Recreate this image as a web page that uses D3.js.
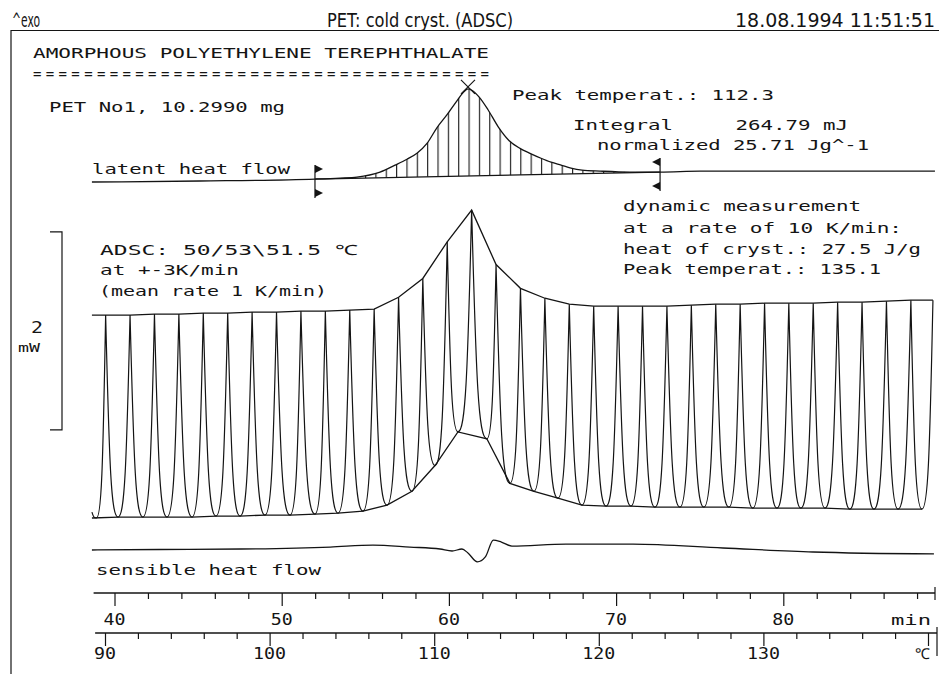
<!DOCTYPE html>
<html><head><meta charset="utf-8">
<script src="https://cdn.jsdelivr.net/npm/d3@7"></script>
<style>
html,body{margin:0;padding:0;background:#fff;}
svg{display:block;}
svg text{white-space:pre;}
</style></head><body>
<svg id="chart" width="939" height="674"></svg>
<script>
// ---------------- data ----------------
const timeMajor = [40, 50, 60, 70, 80];
const timeLabels = ["40", "50", "60", "70", "80"];
const timeMinor = [42,44,46,48,52,54,56,58,62,64,66,68,72,74,76,78,82,84,86,88];
const tempMajor = [90, 100, 110, 120, 130, 140];
const tempLabels = ["90", "100", "110", "120", "130", "℃"];
const tempMinor = [92,94,96,98,102,104,106,108,112,114,116,118,122,124,126,128,132,134,136,138];

// modulated (ADSC) heat flow: peak maxima (upper envelope) and minima (lower envelope), mW
const peakTimes = [39.47,40.93,42.39,43.85,45.31,46.77,48.23,49.69,51.15,52.61,54.07,55.53,56.99,58.44,59.90,61.36,62.82,64.28,65.74,67.20,68.66,70.12,71.58,73.04,74.50,75.96,77.42,78.88,80.33,81.79,83.25,84.71,86.17,87.63];
const peakValues = [2.07,2.07,2.08,2.08,2.09,2.09,2.10,2.10,2.11,2.11,2.12,2.13,2.25,2.44,2.81,3.13,2.58,2.34,2.24,2.18,2.16,2.16,2.16,2.16,2.17,2.18,2.18,2.19,2.19,2.19,2.20,2.20,2.21,2.22];
const troughTimes = [40.21,41.70,43.14,44.64,46.07,47.51,49.00,50.50,51.99,53.37,54.86,56.30,57.79,59.17,60.54,62.27,63.65,65.09,66.52,67.96,69.40,70.89,72.32,73.82,75.25,76.75,78.18,79.62,81.05,82.49,83.98,85.42,86.86,88.29];
const troughValues = [0.03,0.03,0.03,0.03,0.04,0.04,0.05,0.05,0.06,0.07,0.09,0.15,0.29,0.55,0.89,0.82,0.37,0.29,0.22,0.15,0.14,0.14,0.13,0.13,0.13,0.13,0.12,0.12,0.12,0.12,0.11,0.11,0.11,0.11];
const waveStart = [38.65, 0.08];
const firstTrough = [38.92, 0.02];
const waveEnd = [88.95, 2.22];

// latent heat flow (mW, relative)
const latentTimes = [38.65,45.11,51.99,53.49,54.50,55.88,56.78,57.49,58.09,58.69,59.29,59.89,60.48,60.84,61.14,61.44,61.80,62.34,62.94,63.59,64.25,64.85,65.51,66.11,66.71,67.30,67.96,69.04,70.83,72.63,75.02,81.00,89.07];
const latentValues = [0.00,0.01,0.03,0.04,0.05,0.10,0.17,0.23,0.29,0.39,0.55,0.68,0.82,0.90,0.94,0.92,0.86,0.73,0.56,0.42,0.34,0.29,0.24,0.20,0.17,0.14,0.12,0.11,0.10,0.10,0.11,0.11,0.11];
const integrationLimits = [51.99, 72.63];
const latentPeak = [61.14, 0.94];

// sensible heat flow (mW, relative)
const sensibleTimes = [38.65,42.7,47.57,52.9,55.46,57.67,59.47,60.19,60.78,61.14,61.70,62.18,62.66,63.14,63.77,67.00,71.01,76.39,81.78,89.01];
const sensibleValues = [0.00,0.005,0.01,0.03,0.05,0.03,0.01,-0.01,0.01,-0.03,-0.12,-0.07,0.10,0.08,0.04,0.06,0.06,0.02,-0.02,-0.04];

const scaleBar = [0.91, 2.91]; // 2 mW

// ---------------- drawing ----------------
const svg = d3.select("#chart");
const INK = "#141414";
const MONO = "'DejaVu Sans Mono','Liberation Mono',monospace";
const COND = "'DejaVu Sans Condensed','Liberation Sans Narrow','DejaVu Sans',sans-serif";

const x = d3.scaleLinear().domain([40, 80]).range([114.5, 783.3]);
const xT = d3.scaleLinear().domain([90, 140]).range([105, 928]);
const yMain = d3.scaleLinear().domain([0, 2]).range([520, 322]);
const yLat = d3.scaleLinear().domain([0, 1]).range([182, 83]);
const ySens = d3.scaleLinear().domain([0, 1]).range([550, 451]);

function txt(s, x0, y0, len, opt = {}) {
  const t = svg.append("text").attr("x", x0).attr("y", y0).text(s)
    .attr("xml:space", "preserve")
    .attr("font-family", opt.family || MONO)
    .attr("font-size", opt.size || 14)
    .attr("fill", INK);
  if (len) t.attr("textLength", len).attr("lengthAdjust", opt.adjust || "spacingAndGlyphs");
  if (opt.anchor) t.attr("text-anchor", opt.anchor);
  return t;
}
function seg(x1, y1, x2, y2, w = 1.2) {
  svg.append("line").attr("x1", x1).attr("y1", y1).attr("x2", x2).attr("y2", y2)
    .attr("stroke", INK).attr("stroke-width", w);
}

// frame + header
seg(11, 30.5, 939, 30.5, 1.2);
seg(11, 30, 11, 674, 1.2);
txt("^exo", 12, 27, 28, {family: COND, size: 19});
txt("PET: cold cryst. (ADSC)", 327, 27, 186, {family: COND, size: 19});
txt("18.08.1994 11:51:51", 735, 27, 200, {family: COND, size: 19});

// annotations (plotter-like wide mono lettering, pitch ~12.6 px)
txt("AMORPHOUS POLYETHYLENE TEREPHTHALATE", 33, 58, 456);
txt("====================================", 33, 79, 456, {adjust: "spacing"});
txt("PET No1, 10.2990 mg", 49, 112, 236);
txt("Peak temperat.: 112.3", 512, 100, 262);
txt("Integral     264.79 mJ", 573, 130, 275);
txt("normalized 25.71 Jg^-1", 597, 150, 272);
txt("latent heat flow", 92, 174, 198);
txt("dynamic measurement", 623, 211, 238);
txt("at a rate of 10 K/min:", 623, 233, 279);
txt("heat of cryst.: 27.5 J/g", 623, 253.5, 298);
txt("Peak temperat.: 135.1", 623, 273.5, 258);
txt("ADSC: 50/53\\51.5 ℃", 100, 255, 258);
txt("at +-3K/min", 100, 275, 139);
txt("(mean rate 1 K/min)", 99, 296, 228);
txt("sensible heat flow", 96, 575, 225);

// 2 mW scale bar
const sb0 = yMain(scaleBar[0]), sb1 = yMain(scaleBar[1]);
svg.append("path").attr("d", `M50,${sb1}H62V${sb0}H50`).attr("fill", "none")
  .attr("stroke", INK).attr("stroke-width", 1.2);
txt("2", 31, 333, 12, {size: 16});
txt("mW", 18, 352, 22, {size: 12});

// ---- latent heat flow ----
const latent = latentTimes.map((t, i) => ({t, v: latentValues[i]}));
function latAt(t) {
  for (let i = 1; i < latent.length; i++) {
    if (t <= latent[i].t) {
      const a = latent[i - 1], b = latent[i];
      return a.v + (b.v - a.v) * (t - a.t) / (b.t - a.t);
    }
  }
  return latent[latent.length - 1].v;
}
const [l1, l2] = integrationLimits;
const bv1 = latAt(l1), bv2 = latAt(l2);
const baseAt = t => bv1 + (bv2 - bv1) * (t - l1) / (l2 - l1);

const defs = svg.append("defs");
const pat = defs.append("pattern").attr("id", "hatch").attr("patternUnits", "userSpaceOnUse")
  .attr("x", 365).attr("y", 0).attr("width", 10.35).attr("height", 20);
pat.append("line").attr("x1", 0.6).attr("x2", 0.6).attr("y1", 0).attr("y2", 20)
  .attr("stroke", INK).attr("stroke-width", 1.1);

const inside = latent.filter(d => d.t >= l1 && d.t <= l2);
svg.append("path").datum(inside)
  .attr("d", d3.area().x(d => x(d.t)).y0(d => yLat(baseAt(d.t))).y1(d => yLat(d.v)).curve(d3.curveMonotoneX))
  .attr("fill", "url(#hatch)").attr("stroke", "none");
svg.append("path").datum(latent)
  .attr("d", d3.line().x(d => x(d.t)).y(d => yLat(d.v)).curve(d3.curveMonotoneX))
  .attr("fill", "none").attr("stroke", INK).attr("stroke-width", 1.3);
seg(x(l1), yLat(bv1), x(l2), yLat(bv2), 1.2);

// integration limit markers
function marker(t, v, dir) {
  const mx = x(t), my = yLat(v);
  seg(mx, my - 14, mx, my + 19, 1.2);
  [my - 10, my + 14].forEach(cy => {
    const tip = mx + dir * 8;
    svg.append("path").attr("d", `M${mx},${cy - 4}L${tip},${cy}L${mx},${cy + 4}Z`).attr("fill", INK);
  });
}
marker(l1, bv1, 1);
marker(l2, bv2, -1);

// peak cross
const pcx = x(latentPeak[0]), pcy = yLat(latentPeak[1]);
seg(pcx - 7, pcy - 9, pcx + 7, pcy + 5, 1.2);
seg(pcx + 7, pcy - 9, pcx - 7, pcy + 5, 1.2);

// ---- modulated heat flow ----
const nodes = [{t: waveStart[0], v: waveStart[1], k: "S"}, {t: firstTrough[0], v: firstTrough[1], k: "T"}];
peakTimes.forEach((t, i) => {
  nodes.push({t, v: peakValues[i], k: "P"});
  nodes.push({t: troughTimes[i], v: troughValues[i], k: "T"});
});
nodes.push({t: waveEnd[0], v: waveEnd[1], k: "P"});
const wp = d3.path();
wp.moveTo(x(nodes[0].t), yMain(nodes[0].v));
for (let i = 1; i < nodes.length; i++) {
  const a = nodes[i - 1], b = nodes[i];
  const ax = x(a.t), ay = yMain(a.v), bx = x(b.t), by = yMain(b.v);
  const dx = bx - ax;
  if (b.k === "T") {
    const h = by - ay;
    wp.bezierCurveTo(ax + 0.3 * dx, ay + 0.75 * h, bx - 0.55 * dx, by, bx, by);
  } else {
    const h = ay - by;
    wp.bezierCurveTo(ax + 0.55 * dx, ay, bx - 0.3 * dx, by + 0.75 * h, bx, by);
  }
}
svg.append("path").attr("d", wp.toString()).attr("fill", "none")
  .attr("stroke", INK).attr("stroke-width", 1.2);

const upper = [{t: waveStart[0], v: peakValues[0]}].concat(peakTimes.map((t, i) => ({t, v: peakValues[i]})), [{t: waveEnd[0], v: waveEnd[1]}]);
const lower = [{t: waveStart[0], v: firstTrough[1]}].concat(troughTimes.map((t, i) => ({t, v: troughValues[i]})));
const lineMain = d3.line().x(d => x(d.t)).y(d => yMain(d.v));
svg.append("path").datum(upper).attr("d", lineMain).attr("fill", "none").attr("stroke", INK).attr("stroke-width", 1.3);
svg.append("path").datum(lower).attr("d", lineMain).attr("fill", "none").attr("stroke", INK).attr("stroke-width", 1.3);

// ---- sensible heat flow ----
svg.append("path").datum(sensibleTimes.map((t, i) => ({t, v: sensibleValues[i]})))
  .attr("d", d3.line().x(d => x(d.t)).y(d => ySens(d.v)).curve(d3.curveMonotoneX))
  .attr("fill", "none").attr("stroke", INK).attr("stroke-width", 1.3);

// ---- axes ----
function axisRow(scale, major, minor, yLine, from, to) {
  seg(from, yLine, to, yLine, 1.3);
  const gMaj = svg.append("g").attr("transform", `translate(0,${yLine})`)
    .call(d3.axisBottom(scale).tickValues(major).tickSize(13).tickFormat(""));
  const gMin = svg.append("g").attr("transform", `translate(0,${yLine})`)
    .call(d3.axisBottom(scale).tickValues(minor).tickSize(6).tickFormat(""));
  [gMaj, gMin].forEach(g => {
    g.select(".domain").remove();
    g.selectAll(".tick line").attr("stroke", INK).attr("stroke-width", 1.2);
  });
}
axisRow(x, timeMajor, timeMinor, 593, x(38.75), 935);
seg(935, 587, 935, 600, 1.2);
timeMajor.forEach((v, i) => txt(timeLabels[i], x(v), 625, timeLabels[i].length * 11, {anchor: "middle", size: 15}));
txt("min", 931, 625, 40, {anchor: "end", size: 14});

axisRow(xT, tempMajor, tempMinor, 633, xT(89.4), 937);
seg(937, 627, 937, 656, 1.2);
tempMajor.forEach((v, i) => {
  if (i < tempMajor.length - 1) txt(tempLabels[i], xT(v), 659, tempLabels[i].length * 11, {anchor: "middle", size: 15});
  else txt(tempLabels[i], xT(v) + 2, 659, null, {anchor: "end", size: 15});
});
</script>
</body></html>
